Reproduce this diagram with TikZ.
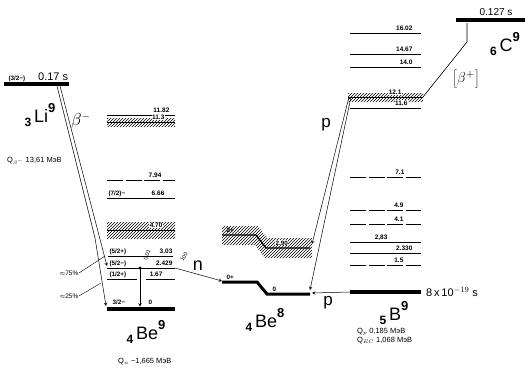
\documentclass[tikz,border=0pt]{standalone}
\usepackage{fontspec}
\setmainfont{Liberation Sans}
\usetikzlibrary{patterns}

\newcommand{\isot}[3]{\raisebox{-4pt}{\bfseries\fontsize{12}{12}\selectfont #1}\,#2\raisebox{10pt}{\bfseries\fontsize{13}{13}\selectfont #3}}

\tikzset{
  lvl/.style={line width=0.9pt},
  dlvl/.style={line width=0.9pt, dash pattern=on 16pt off 2.5pt},
  gnd/.style={line width=4.5pt},
  band/.style={pattern=north east lines},
  num/.style={font=\fontsize{6.5}{6.5}\selectfont\bfseries, inner sep=0.4pt, anchor=base east},
  spin/.style={font=\fontsize{6.3}{6.3}\selectfont\bfseries, inner sep=0.4pt, anchor=base west},
  nucl/.style={font=\fontsize{18}{18}\selectfont, inner sep=0pt},
  qval/.style={font=\fontsize{7.5}{9}\selectfont, inner sep=0pt, anchor=base west, align=left},
  trans/.style={line width=0.5pt, ->, >=stealth},
  halo/.style={fill=white},
}

\begin{document}
\begin{tikzpicture}[x=1pt,y=-1pt]
        \useasboundingbox (0,0) rectangle (531,373);

        % 3Li9
        \draw[gnd] (4,84) coordinate (liL) -- (69,84) coordinate (liR);
        \node[spin] (lispin) at (8,80) {(3/2−)};
        \node[font=\fontsize{11}{11}\selectfont, anchor=base west, inner sep=0pt] (lilife) at (38,80) {0.17 s};
        \node[nucl] (linuc) at (40,115) {\isot{3}{Li}{9}};
        \node[font=\fontsize{16}{16}\selectfont] (bminus) at (81,121) {$\beta^-$};
        \node[qval] (qbeta) at (7,162) {Q$_{\beta^-}$ 13,61 МэВ};
        \coordinate (bA) at (60,86);
        \coordinate (bB) at (57,86);

        % 4Be9 levels
        \draw[lvl] (107,115) -- (175,115);
        \node[num] (l1182) at (170,112) {11.82};
        \fill[band] (107,118) rectangle (175,126);
        \draw[lvl] (107,122) -- (175,122);
        \node[num, halo] (l113) at (165,119.5) {11.3};
        \draw[dlvl] (107,180) -- (175,180);
        \node[num] (l794) at (162,177) {7.94};
        \draw[lvl] (107,198) -- (175,198);
        \node[spin] (s72) at (108,195) {(7/2)−};
        \node[num] (l666) at (165,195) {6.66};
        \fill[band] (107,222) rectangle (175,238);
        \draw[lvl] (107,230) -- (175,230);
        \node[num, halo] (l470) at (163,227.5) {4.70};
        \draw[lvl] (108,256) -- (173,256);
        \node[spin] (s52p) at (109,253) {(5/2+)};
        \node[num] (l303) at (173,253) {3.03};
        \draw[lvl] (107,268) coordinate (be5L) -- (175,268) coordinate (be5R);
        \node[spin] (s52m) at (109,265) {(5/2−)};
        \node[num] (l2429) at (173,265) {2.429};
        \draw[lvl] (107,279) -- (137,279);
        \draw[lvl] (146,279) -- (175,279);
        \node[spin] (s12p) at (109,276) {(1/2+)};
        \node[num] (l167) at (163,276) {1.67};
        \draw[gnd] (107,309) coordinate (be0L) -- (175,309) coordinate (be0R);
        \node[spin] (s32m) at (112,304) {3/2−};
        \node[spin] (l0a) at (148,304) {0};
        \node[nucl] (be9nuc) at (146,332) {\isot{4}{Be}{9}};
        \node[qval] (qn) at (118,363) {Q$_n$ −1,665 МэВ};

        % beta- decay of Li9
        \coordinate (be5a) at (107,266);
        \coordinate (be0a) at (106,306);
        \draw[trans] (bA) -- (be5a);
        \draw[trans] (bB) -- (95,238) -- (be0a);
        \node[font=\fontsize{6.5}{6.5}\selectfont, anchor=east, inner sep=0.5pt] (p75) at (79,273) {$\approx$75\%};
        \node[font=\fontsize{6.5}{6.5}\selectfont, anchor=east, inner sep=0.5pt] (p25) at (79,296) {$\approx$25\%};
        \coordinate (t75) at (105,256);
        \coordinate (t25) at (101,283);
        \draw[line width=0.4pt] (p75.east) -- (t75);
        \draw[line width=0.4pt] (p25.east) -- (t25);

        % gamma 2.429 -> 0
        \coordinate (gtop) at (140,268);
        \coordinate (gbot) at (140,306.5);
        \fill (gtop) circle (1.6pt);
        \draw[trans] (gtop) -- (gbot);
        \node[font=\fontsize{5.5}{5.5}\selectfont, rotate=72, inner sep=0pt] (g001) at (147,255) {0.01};

        % 4Be8
        \fill[band] (222,226) -- (258,226) -- (267,238) -- (312,238) -- (312,258) -- (265,258) -- (255,245) -- (222,245) -- cycle;
        \draw[line width=1.3pt] (222,235) -- (256,235) -- (266,248) -- (310,248) coordinate (be8xR);
        \node[spin] (s2p) at (226,232) {2+};
        \node[spin, halo] (l290) at (275,245) {2.90};
        \draw[line width=3pt] (222,282) coordinate (be8L) -- (257,282) -- (267,294) -- (310,294) coordinate (be8R);
        \node[spin] (s0p) at (226,279) {0+};
        \node[spin] (l0b) at (272,291) {0};
        \node[nucl] (be8nuc) at (265,320) {\isot{4}{Be}{8}};

        % n emission
        \coordinate (nend) at (222,281);
        \draw[trans] (be5R) -- (nend);
        \node[font=\fontsize{5.5}{5.5}\selectfont, rotate=58, inner sep=0pt] (n100) at (184,257) {100};
        \node[font=\fontsize{18}{18}\selectfont, inner sep=0pt] (nlab) at (198,266) {n};

        % 5B9 levels
        \draw[lvl] (350,33) -- (421,33);
        \node[num] (l1602) at (413,30) {16.02};
        \draw[lvl] (350,54) -- (421,54);
        \node[num] (l1467) at (413,51) {14.67};
        \draw[lvl] (350,67) -- (421,67);
        \node[num] (l140) at (413,64) {14.0};
        \fill[band] (348,93) rectangle (423,101);
        \draw[lvl] (348,97) coordinate (b12L) -- (423,97) coordinate (b12R);
        \node[num, halo] (l121) at (402,94.5) {12.1};
        \draw[lvl] (350,108) -- (421,108);
        \node[num, halo] (l116) at (408,105) {11.6};
        \draw[dlvl] (350,177) -- (421,177);
        \node[num] (l71) at (405,174) {7.1};
        \draw[dlvl] (350,210) -- (421,210);
        \node[num] (l49) at (404,207) {4.9};
        \draw[dlvl] (350,224) -- (421,224);
        \node[num] (l41) at (404,221) {4.1};
        \draw[lvl] (350,242) -- (421,242);
        \node[num] (l283) at (388,239) {2,83};
        \draw[lvl] (350,253) -- (421,253);
        \node[num] (l2330) at (413,250) {2.330};
        \draw[dlvl] (350,265) -- (421,265);
        \node[num] (l15) at (404,262) {1.5};
        \draw[gnd] (350,292) coordinate (b0L) -- (421,292) coordinate (b0R);
        \node[font=\fontsize{11}{11}\selectfont, anchor=base west, inner sep=0pt] (b9life) at (426,296) {8\,x\,10$^{-19}$ s};
        \node[nucl] (b9nuc) at (394,313) {\isot{5}{B}{9}};
        \node[qval] (qp) at (357,342) {Q$_p$ 0,185 МэВ\\Q$_{EC}$ 1,068 МэВ};

        % proton emission
        \coordinate (pA) at (349,97);
        \coordinate (pB) at (351,97);
        \coordinate (p290) at (312,244);
        \coordinate (p0) at (310,290);
        \coordinate (pg) at (312,293);
        \draw[trans] (pA) -- (p290);
        \draw[trans] (pB) -- (p0);
        \draw[trans] (b0L) -- (pg);
        \node[font=\fontsize{17}{17}\selectfont, inner sep=0pt] (pup) at (326,125) {p};
        \node[font=\fontsize{17}{17}\selectfont, inner sep=0pt] (plow) at (328,303) {p};

        % 6C9
        \draw[gnd] (456,20) coordinate (cL) -- (525,20) coordinate (cR);
        \node[font=\fontsize{10}{10}\selectfont, anchor=base, inner sep=0pt] (clife) at (496,15) {0.127 s};
        \node[nucl] (c9nuc) at (505,44) {\isot{6}{C}{9}};
        \node[font=\fontsize{15}{15}\selectfont] (bplus) at (466,79) {$\left[\beta^{+}\right]$};
        \coordinate (ctop) at (467,23);
        \coordinate (cbend) at (467,42);
        \draw[line width=0.6pt] (ctop) -- (cbend) -- (b12R);

\end{tikzpicture}
\end{document}
